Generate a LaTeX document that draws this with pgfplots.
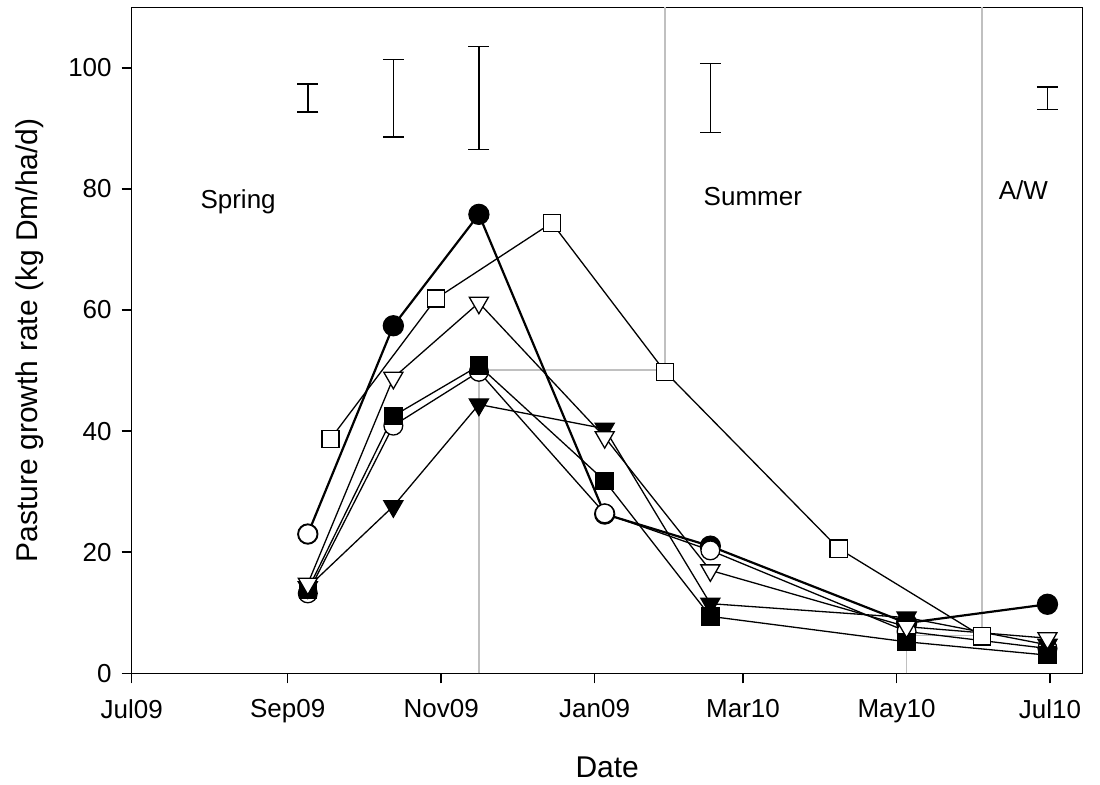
\documentclass[border=0pt]{standalone}
\usepackage{pgfplots}
\pgfplotsset{compat=1.18}
\usepackage{fontspec}
\setmainfont{Liberation Sans}

% x values are days counted from 1 July 2009
\begin{document}
\begin{tikzpicture}
\begin{axis}[
  at={(0,0)}, anchor=south west,
  scale only axis, width=475.5pt, height=333pt,
  xmin=0, xmax=378, ymin=0, ymax=110,
  xtick={0,62,123,184,243,304,365},
  xticklabels={Jul09,Sep09,Nov09,Jan09,Mar10,May10,Jul10},
  ytick={0,20,40,60,80,100},
  xtick pos=bottom, ytick pos=left,
  tick align=outside, major tick length=5pt,
  tick style={black, line width=0.75pt},
  axis line style={black, line width=0.75pt},
  /pgf/number format/assume math mode=true,
  tick label style={font=\fontsize{13}{15}\selectfont},
  xticklabel style={yshift=-4.5pt},
  yticklabel style={xshift=-1.5pt},
  xlabel={Date},
  ylabel={Pasture growth rate (kg Dm/ha/d)},
  label style={font=\fontsize{15}{18}\selectfont},
  xlabel style={at={(axis description cs:0.5,-0.1407)}, anchor=center},
  ylabel style={at={(axis description cs:-0.1075,0.5)}, anchor=center},
  clip=false,
  every axis plot/.append style={black, line width=0.65pt},
]
% season boundaries
\addplot[color={rgb,255:red,192;green,192;blue,192}, line width=0.7pt, mark=none]
  coordinates {(138,0) (138,50.1) (212,50.1) (212,110)};
\addplot[color={rgb,255:red,192;green,192;blue,192}, line width=0.7pt, mark=none]
  coordinates {(308,0) (308,6.2) (338,6.2) (338,110)};

% LSD bars
\addplot[draw=none, mark=none,
  error bars/.cd, y dir=both, y explicit, error mark=|,
  error bar style={draw=black, line width=0.8pt},
  error mark options={draw=black, line width=0.8pt, mark size=5.25pt}]
  coordinates {
    (70,95) +- (0,2.3)
    (104,95) +- (0,6.4)
    (138,95) +- (0,8.5)
    (230,95) +- (0,5.7)
    (364,95) +- (0,1.85)
  };

% filled circles
\addplot[line width=1.1pt, mark=*, mark size=5pt,
  mark options={fill=black, line width=0.65pt}]
  coordinates {(70,23) (104,57.4) (138,75.8) (188,26.3) (230,21.0) (308,8.3) (364,11.4)};
% open circles
\addplot[mark=*, mark size=4.7pt, mark options={fill=white}]
  coordinates {(70,13.2) (104,40.9) (138,49.8) (188,26.4) (230,20.3) (308,6.9) (364,4.1)};
% first sampling of the filled-circle treatment
\addplot[only marks, mark=*, mark size=4.7pt, mark options={fill=white}]
  coordinates {(70,23)};
% filled squares
\addplot[mark=square*, mark size=4.3pt, mark options={fill=black}]
  coordinates {(70,13.8) (104,42.5) (138,50.8) (188,31.8) (230,9.4) (308,5.2) (364,3.0)};
% filled down-triangles
\addplot[mark=triangle*, mark size=5.5pt, mark options={fill=black, rotate=180}]
  coordinates {(70,14.2) (104,27.6) (138,44.4) (188,40.4) (230,11.5) (308,9.2) (364,4.7)};
% open down-triangles
\addplot[mark=triangle*, mark size=5.5pt, mark options={fill=white, rotate=180}]
  coordinates {(70,14.8) (104,48.8) (138,61.2) (188,39.0) (230,17.0) (308,7.7) (364,5.8)};
% open squares
\addplot[mark=square*, mark size=4.3pt, mark options={fill=white}]
  coordinates {(79,38.7) (121,61.9) (167,74.4) (212,49.8) (281,20.6) (338,6.1)};

\node[anchor=base west, inner xsep=0pt, font=\fontsize{13}{15}\selectfont] at (axis cs:27.2,76.7) {Spring};
\node[anchor=base west, inner xsep=0pt, font=\fontsize{13}{15}\selectfont] at (axis cs:227.2,77.2) {Summer};
\node[anchor=base west, inner xsep=0pt, font=\fontsize{13}{15}\selectfont] at (axis cs:344.5,78.2) {A/W};
\end{axis}
\pgfresetboundingbox
\path[use as bounding box] (-65.85pt,-55.85pt) rectangle (484.15pt,336.65pt);
\end{tikzpicture}
\end{document}
